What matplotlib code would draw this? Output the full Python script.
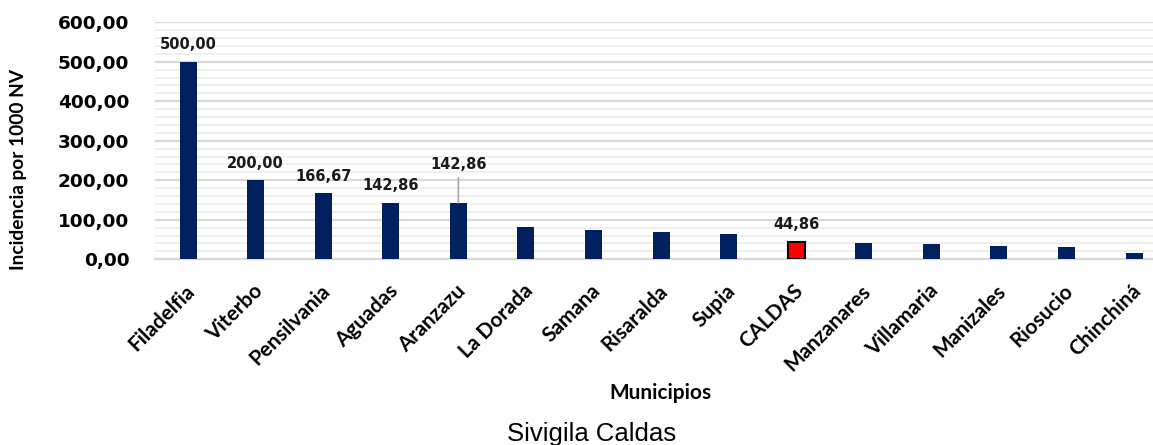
import matplotlib.pyplot as plt
from matplotlib.ticker import MultipleLocator, FuncFormatter
from matplotlib.transforms import ScaledTranslation

municipios = ['Filadelfia', 'Viterbo', 'Pensilvania', 'Aguadas', 'Aranzazu',
              'La Dorada', 'Samana', 'Risaralda', 'Supia', 'CALDAS',
              'Manzanares', 'Villamaria', 'Manizales', 'Riosucio', 'Chinchiná']
incidencia = [500.00, 200.00, 166.67, 142.86, 142.86,
              81.0, 75.0, 70.0, 65.0, 44.86,
              42.0, 39.5, 34.5, 32.0, 15.5]
etiquetas = ['500,00', '200,00', '166,67', '142,86', '142,86',
             '', '', '', '', '44,86', '', '', '', '', '']

fig = plt.figure(figsize=(11.53, 4.45), dpi=100)
ax = fig.add_axes([0.1344, 0.4173, 0.8656, 0.5328])

colors = ['#002060'] * len(municipios)
i_caldas = municipios.index('CALDAS')
colors[i_caldas] = '#ff0000'

x = range(len(municipios))
bars = ax.bar(x, incidencia, width=0.25, color=colors, zorder=3)
bars[i_caldas].set_edgecolor('black')
bars[i_caldas].set_linewidth(1.5)

ax.set_ylim(0, 600)
ax.set_xlim(-0.49, 14.28)
ax.yaxis.set_major_locator(MultipleLocator(100))
ax.yaxis.set_minor_locator(MultipleLocator(20))
ax.yaxis.set_major_formatter(FuncFormatter(lambda v, p: f'{v:.2f}'.replace('.', ',')))
ax.grid(axis='y', which='major', color='#d9d9d9', lw=1.6, zorder=0)
ax.grid(axis='y', which='minor', color='#efefef', lw=1.4, zorder=0)
for s in ['top', 'right', 'left']:
    ax.spines[s].set_visible(False)
ax.spines['bottom'].set_color('#d9d9d9')
ax.spines['bottom'].set_linewidth(1.6)
ax.tick_params(axis='both', which='both', length=0)
ax.tick_params(axis='y', pad=18.5)
ax.tick_params(axis='x', pad=15.5)

for lab in ax.get_yticklabels():
    lab.set_fontsize(13.3)
    lab.set_fontweight('bold')
    lab.set_family('DejaVu Sans')

ax.set_xticks(list(x))
ax.set_xticklabels(municipios, rotation=45, ha='right', va='top',
                   rotation_mode='anchor', fontsize=15, fontweight='bold',
                   family='Lato')
shift = ScaledTranslation(-3 / 100, 0, fig.dpi_scale_trans)
for lab in ax.get_xticklabels():
    lab.set_transform(lab.get_transform() + shift)

# etiquetas de datos
for i, (v, t) in enumerate(zip(incidencia, etiquetas)):
    if not t:
        continue
    off = 12.5
    if municipios[i] == 'Aranzazu':
        off = 33.5
        ax.annotate('', xy=(i, v), xytext=(0, 25), textcoords='offset pixels',
                    arrowprops=dict(arrowstyle='-', color='#a6a6a6', lw=1.2,
                                    shrinkA=0, shrinkB=0))
    ax.annotate(t, xy=(i, v), xytext=(0, off), textcoords='offset pixels',
                ha='center', va='baseline', fontsize=10.5, fontweight='bold',
                color='#1a1a1a')

fig.text(0.016, 0.620, 'Incidencia por 1000 NV', rotation=90, ha='center',
         va='center', fontsize=13.8, fontweight='bold', family='Lato')
fig.text(0.573, 0.117, 'Municipios', ha='center', va='center', fontsize=15,
         fontweight='bold', family='Lato')
fig.text(0.513, 0.008, 'Sivigila Caldas', ha='center', va='baseline',
         fontsize=18.5, family='Liberation Sans')

plt.savefig('out.png', format='png')
